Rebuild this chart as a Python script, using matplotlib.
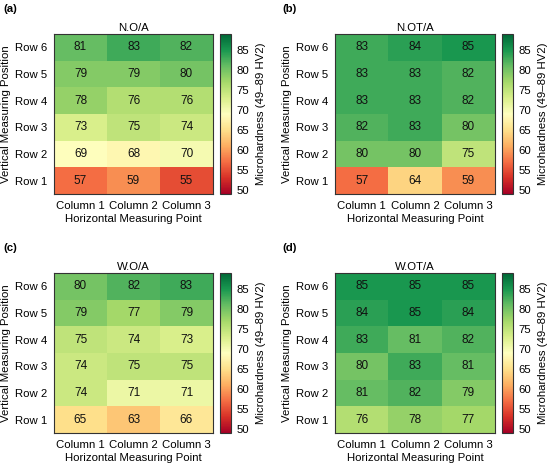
import numpy as np
import matplotlib
matplotlib.use("Agg")
import matplotlib.pyplot as plt

plt.rcParams['font.family'] = ['Liberation Sans', 'DejaVu Sans']
plt.rcParams['font.size'] = 8

# rows listed from Row 1 (bottom) to Row 6 (top), columns 1..3
rows = ["Row 1", "Row 2", "Row 3", "Row 4", "Row 5", "Row 6"]
cols = ["Column 1", "Column 2", "Column 3"]

no_a = [[57, 59, 55],
        [69, 68, 70],
        [73, 75, 74],
        [78, 76, 76],
        [79, 79, 80],
        [81, 83, 82]]

not_a = [[57, 64, 59],
         [80, 80, 75],
         [82, 83, 80],
         [83, 83, 82],
         [83, 83, 82],
         [83, 84, 85]]

wo_a = [[65, 63, 66],
        [74, 71, 71],
        [74, 75, 75],
        [75, 74, 73],
        [79, 77, 79],
        [80, 82, 83]]

wot_a = [[76, 78, 77],
         [81, 82, 79],
         [80, 83, 81],
         [83, 81, 82],
         [84, 85, 84],
         [85, 85, 85]]

panels = [("(a)", "N.O/A", no_a),
          ("(b)", "N.OT/A", not_a),
          ("(c)", "W.O/A", wo_a),
          ("(d)", "W.OT/A", wot_a)]

W, H = 550, 467
fig = plt.figure(figsize=(W / 100, H / 100), dpi=100)

# pixel layout of each panel: heatmap left, top, width, height and colorbar left
layout = [(54, 34, 159, 160, 220),
          (335, 34, 160, 160, 502),
          (54, 273, 159, 160, 220),
          (335, 273, 160, 160, 502)]
letter_pos = [(3, 9), (282, 9), (3, 248), (282, 248)]

fs = 8.2

for (letter, title, data), (lx, ty, w, h, cx), (px, py) in zip(panels, layout, letter_pos):
    arr = np.array(data)
    ax = fig.add_axes([lx / W, 1 - (ty + h) / H, w / W, h / H])
    im = ax.imshow(arr, cmap="RdYlGn", vmin=49, vmax=89, origin="lower", aspect="auto")
    for i in range(arr.shape[0]):
        for j in range(arr.shape[1]):
            ax.text(j, i, str(arr[i, j]), ha="center", va="center", fontsize=8.5, color="#111111")
    ax.set_xticks(range(len(cols)))
    ax.set_xticklabels(cols)
    ax.set_yticks(range(len(rows)))
    ax.set_yticklabels(rows)
    ax.tick_params(length=0, pad=5, labelsize=fs)
    ax.set_title(title, fontsize=fs, pad=2)
    ax.set_xlabel("Horizontal Measuring Point", fontsize=fs, labelpad=2)
    ax.set_ylabel("Vertical Measuring Position", fontsize=fs, labelpad=3)
    for s in ax.spines.values():
        s.set_linewidth(0.8)
        s.set_color("#333333")

    cax = fig.add_axes([cx / W, 1 - (ty + h) / H, 11 / W, h / H])
    cb = fig.colorbar(im, cax=cax, ticks=[50, 55, 60, 65, 70, 75, 80, 85])
    cb.ax.tick_params(length=0, pad=4, labelsize=fs)
    cb.outline.set_linewidth(0.8)
    cb.outline.set_edgecolor("#333333")
    cb.set_label("Microhardness (49\u201389 HV2)", fontsize=fs, labelpad=5)

    fig.text(px / W, 1 - py / H, letter, fontsize=fs, fontweight="bold", va="center", ha="left")

fig.savefig("out.png", dpi=100)
